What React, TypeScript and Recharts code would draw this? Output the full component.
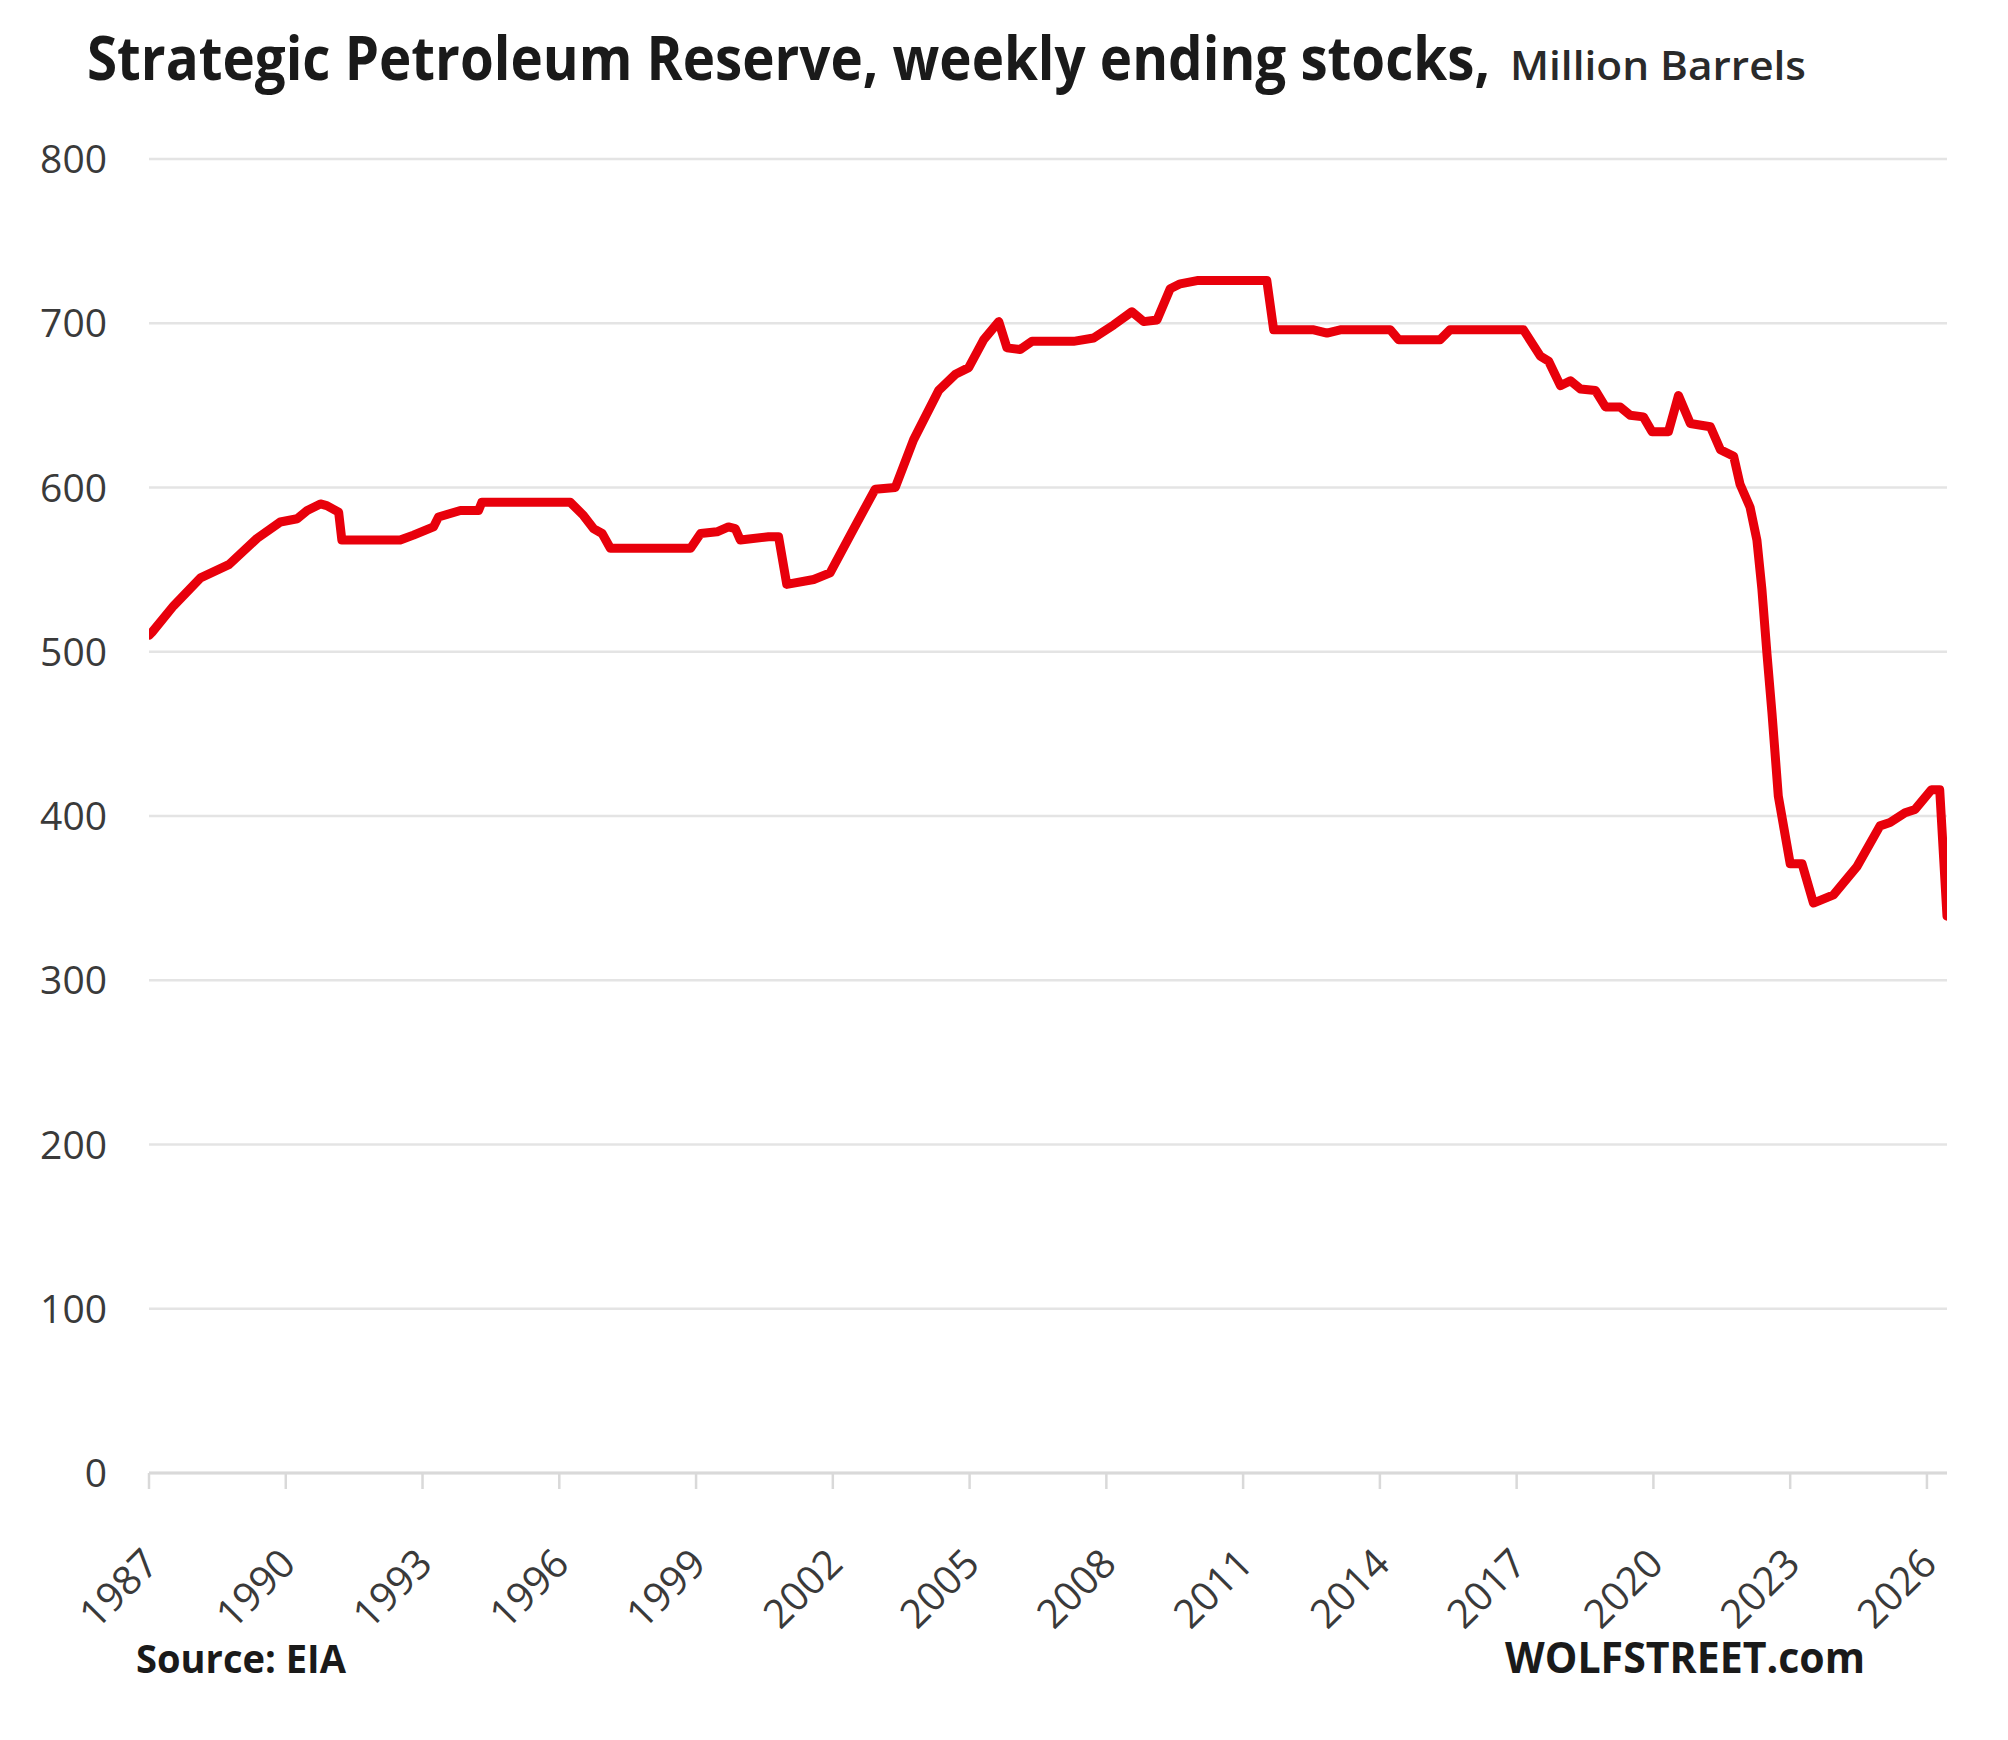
import React from 'react';
import { LineChart, Line, XAxis, YAxis, CartesianGrid } from 'recharts';

// Weekly ending stocks (year as decimal, million barrels)
const years = [
  1987.0, 1987.07, 1987.54, 1988.13, 1988.75, 1989.37, 1989.88, 1990.25, 1990.47, 1990.76,
  1990.9, 1991.16, 1991.23, 1992.51, 1992.8, 1993.24, 1993.35, 1993.83, 1994.23, 1994.3,
  1996.24, 1996.53, 1996.75, 1996.94, 1997.12, 1998.88, 1999.1, 1999.46, 1999.71, 1999.86,
  1999.97, 2000.59, 2000.81, 2000.99, 2001.58, 2001.94, 2002.46, 2002.93, 2003.37, 2003.77,
  2003.99, 2004.32, 2004.69, 2004.98, 2005.31, 2005.64, 2005.82, 2006.11, 2006.37, 2007.28,
  2007.72, 2008.16, 2008.56, 2008.82, 2009.11, 2009.4, 2009.62, 2009.99, 2011.52, 2011.67,
  2012.55, 2012.84, 2013.13, 2014.23, 2014.41, 2015.32, 2015.54, 2017.15, 2017.52, 2017.7,
  2017.96, 2018.18, 2018.4, 2018.73, 2018.95, 2019.27, 2019.49, 2019.78, 2019.97, 2020.33,
  2020.55, 2020.81, 2021.25, 2021.47, 2021.76, 2021.9, 2022.12, 2022.27, 2022.38, 2022.49,
  2022.6, 2022.74, 2023.0, 2023.26, 2023.51, 2023.95, 2024.46, 2024.97, 2025.19, 2025.52,
  2025.74, 2026.1, 2026.28, 2026.44,
];

const stocks = [
  510, 512, 528, 545, 553, 569, 579, 581, 586, 590,
  589, 585, 568, 568, 571, 576, 582, 586, 586, 591,
  591, 583, 575, 572, 563, 563, 572, 573, 576, 575,
  568, 570, 570, 541, 544, 548, 575, 599, 600, 629,
  641, 659, 669, 673, 690, 701, 685, 684, 689, 689,
  691, 699, 707, 701, 702, 721, 724, 726, 726, 696,
  696, 694, 696, 696, 690, 690, 696, 696, 680, 677,
  662, 665, 660, 659, 649, 649, 644, 643, 634, 634,
  656, 639, 637, 623, 619, 602, 588, 568, 538, 499,
  463, 412, 371, 371, 347, 352, 369, 394, 396, 402,
  404, 416, 416, 339,
];

const xTicks = [1987, 1990, 1993, 1996, 1999, 2002, 2005, 2008, 2011, 2014, 2017, 2020, 2023, 2026];
const yTicks = [0, 100, 200, 300, 400, 500, 600, 700, 800];

const titleMain = 'Strategic Petroleum Reserve, weekly ending stocks,';
const titleUnit = 'Million Barrels';
const sourceText = 'Source: EIA';
const brandText = 'WOLFSTREET.com';

const data = years.map((year, i) => ({ year, stocks: stocks[i] }));

const FONT = "'Open Sans', 'Noto Sans', sans-serif";

const WIDTH = 2008;
const HEIGHT = 1740;
const MARGIN = { top: 159, right: 61, bottom: 67, left: 0 };
const X_AXIS_HEIGHT = 200;

const TITLE_SCALE = 0.87;

const YTick = (props: any) => {
  const { x, y, payload } = props;
  return (
    <text x={x - 42} y={y + 14} textAnchor="end" fontFamily={FONT} fontSize={39} fill="#3a3a3a">
      {payload.value}
    </text>
  );
};

const XTick = (props: any) => {
  const { x, y, payload } = props;
  const ax = x + 12;
  const ay = y + 77;
  return (
    <text
      x={ax}
      y={ay}
      textAnchor="end"
      transform={`rotate(-45, ${ax}, ${ay})`}
      fontFamily={FONT}
      fontSize={40}
      fill="#3a3a3a"
    >
      {payload.value}
    </text>
  );
};

export default function App() {
  return (
    <div style={{ position: 'absolute', left: 0, top: 0, width: WIDTH, height: HEIGHT, background: '#ffffff' }}>
      <div style={{ position: 'absolute', left: 0, top: 0 }}>
        <LineChart width={WIDTH} height={HEIGHT} data={data} margin={MARGIN}>
          <CartesianGrid vertical={false} stroke="#e4e4e4" strokeWidth={2.5} />
          <XAxis
            dataKey="year"
            type="number"
            domain={[1987, 2026.44]}
            ticks={xTicks}
            allowDataOverflow
            interval={0}
            height={X_AXIS_HEIGHT}
            tickSize={16}
            tickMargin={0}
            axisLine={{ stroke: '#d9d9d9', strokeWidth: 3 }}
            tickLine={{ stroke: '#d9d9d9', strokeWidth: 2.5 }}
            tick={<XTick />}
          />
          <YAxis
            type="number"
            domain={[0, 800]}
            ticks={yTicks}
            interval={0}
            width={149}
            axisLine={false}
            tickLine={false}
            tickSize={0}
            tickMargin={0}
            tick={<YTick />}
          />
          <Line
            type="linear"
            dataKey="stocks"
            stroke="#e8000b"
            strokeWidth={9}
            strokeLinejoin="round"
            strokeLinecap="round"
            dot={false}
            activeDot={false}
            isAnimationActive={false}
          />
        </LineChart>
      </div>
      <svg
        width={WIDTH}
        height={HEIGHT}
        style={{ position: 'absolute', left: 0, top: 0, pointerEvents: 'none' }}
      >
        <text
          transform={`translate(87 80) scale(${TITLE_SCALE} 1)`}
          x={0}
          y={0}
          fontFamily={FONT}
          fontWeight={700}
          fontSize={60}
          fill="#1a1a1a"
          textLength={1403 / TITLE_SCALE}
          lengthAdjust="spacingAndGlyphs"
        >
          {titleMain}
        </text>
        <text
          x={1510}
          y={80}
          fontFamily={FONT}
          fontWeight={600}
          fontSize={40}
          fill="#2a2a2a"
          textLength={296}
          lengthAdjust="spacingAndGlyphs"
        >
          {titleUnit}
        </text>
        <text
          x={136}
          y={1673}
          fontFamily={FONT}
          fontWeight={700}
          fontSize={39}
          fill="#1a1a1a"
          textLength={210}
          lengthAdjust="spacingAndGlyphs"
        >
          {sourceText}
        </text>
        <text
          x={1505}
          y={1673}
          fontFamily={FONT}
          fontWeight={700}
          fontSize={43}
          fill="#1a1a1a"
          textLength={360}
          lengthAdjust="spacingAndGlyphs"
        >
          {brandText}
        </text>
      </svg>
    </div>
  );
}
